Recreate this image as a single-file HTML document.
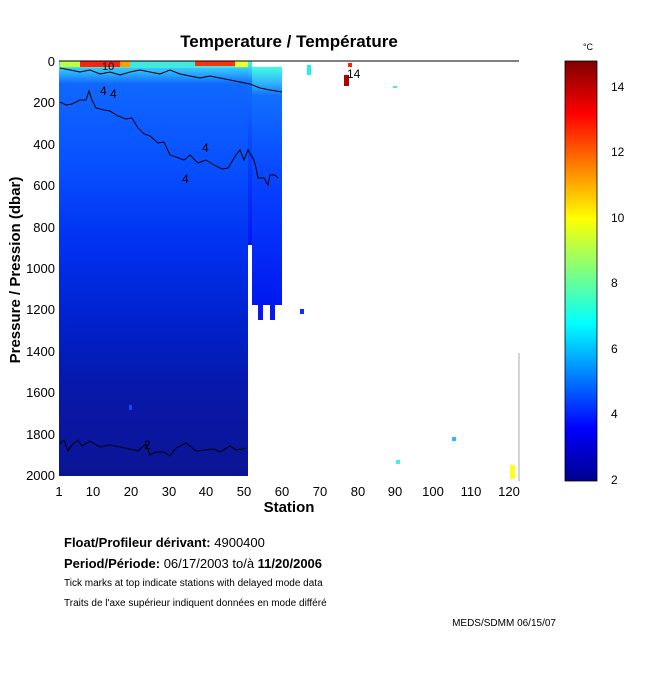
<!DOCTYPE html>
<html><head><meta charset="utf-8"><style>
body{margin:0;background:#fff;width:650px;height:680px;overflow:hidden;font-family:"Liberation Sans",sans-serif}
</style></head><body>
<svg width="650" height="680" xmlns="http://www.w3.org/2000/svg" font-family="Liberation Sans, sans-serif">
<defs>
<linearGradient id="g1" x1="0" y1="0" x2="0" y2="1">
<stop offset="0" stop-color="#40e8f0"/>
<stop offset="0.025" stop-color="#30b8ff"/>
<stop offset="0.055" stop-color="#1068ff"/>
<stop offset="0.25" stop-color="#0850ff"/>
<stop offset="0.45" stop-color="#0030f0"/>
<stop offset="0.65" stop-color="#0020c8"/>
<stop offset="0.8" stop-color="#0818a8"/>
<stop offset="1" stop-color="#0c1495"/>
</linearGradient>
<linearGradient id="g2" x1="0" y1="0" x2="0" y2="1">
<stop offset="0" stop-color="#40ffe0"/>
<stop offset="0.07" stop-color="#30b0ff"/>
<stop offset="0.12" stop-color="#1070ff"/>
<stop offset="0.5" stop-color="#0840ff"/>
<stop offset="1" stop-color="#0018f0"/>
</linearGradient>
<linearGradient id="cb" x1="0" y1="1" x2="0" y2="0">
<stop offset="0" stop-color="#00008f"/>
<stop offset="0.125" stop-color="#0000ff"/>
<stop offset="0.375" stop-color="#00ffff"/>
<stop offset="0.625" stop-color="#ffff00"/>
<stop offset="0.875" stop-color="#ff0000"/>
<stop offset="1" stop-color="#800000"/>
</linearGradient>
</defs>
<text x="289" y="47" font-size="17" font-weight="bold" text-anchor="middle">Temperature / Température</text>
<rect x="59" y="61" width="189" height="415" fill="url(#g1)"/>
<rect x="59" y="61" width="189" height="7" fill="#40e8e0"/>
<rect x="60" y="61" width="20" height="6" fill="#c0ff40"/>
<rect x="80" y="61" width="40" height="6" fill="#ff2010"/>
<rect x="120" y="61" width="10" height="6" fill="#ffa000"/>
<rect x="195" y="61" width="40" height="5" fill="#ff3010"/>
<rect x="235" y="61" width="13" height="6" fill="#f0ff30"/>
<rect x="248" y="61" width="4" height="184" fill="url(#g2)"/>
<rect x="252" y="67" width="30" height="238" fill="url(#g2)"/>
<rect x="258" y="305" width="5" height="15" fill="#0818f0"/>
<rect x="270" y="305" width="5" height="15" fill="#0818f0"/>
<rect x="300" y="309" width="4" height="5" fill="#0830ff"/>
<rect x="307" y="65" width="4" height="10" fill="#20f0f0"/>
<rect x="348" y="63" width="4" height="4" fill="#ff2000"/>
<rect x="344" y="75" width="5" height="11" fill="#b00000"/>
<rect x="393" y="86" width="4" height="2" fill="#40f0e0"/>
<rect x="396" y="460" width="4" height="4" fill="#40f0f0"/>
<rect x="452" y="437" width="4" height="4" fill="#20c0ff"/>
<rect x="510" y="465" width="5" height="14" fill="#ffff20"/>
<rect x="129" y="405" width="3" height="5" fill="#2040ff"/>
<polyline fill="none" stroke="#000" stroke-width="1" points="60,102 66,105 72,104 80,100 86,100 89,91 92,100 96,108 104,110 110,111 118,116 126,119 132,118 138,128 144,134 150,136 158,143 164,142 170,155 176,157 184,160 190,155 198,163 206,160 214,165 222,169 228,168 236,155 240,150 244,160 248,150 254,160 256,168 258,178 264,178 268,185 270,175 275,175 278,178"/>
<polyline fill="none" stroke="#000" stroke-width="1" points="60,68 70,70 80,72 90,70 100,74 110,72 120,75 130,72 140,70 150,72 160,74 170,70 180,74 190,76 200,78 210,76 220,78 230,80 240,82 250,84 260,88 270,90 282,92"/>
<polyline fill="none" stroke="#000" stroke-width="1" points="60,444 64,440 68,451 72,445 78,440 82,446 90,441 100,447 110,445 120,447 130,449 138,451 146,444 150,455 156,452 164,452 170,456 176,448 186,443 196,451 206,450 214,449 220,452 230,446 236,450 242,449 246,448"/>
<text x="144" y="449" font-size="12">2</text>
<text x="100" y="95" font-size="12">4</text><text x="110" y="98" font-size="12">4</text>
<text x="202" y="152" font-size="12">4</text><text x="182" y="183" font-size="12">4</text>
<text x="347" y="78" font-size="12">14</text>
<text x="102" y="70" font-size="11">10</text>
<line x1="59" y1="61" x2="519" y2="61" stroke="#000"/>
<line x1="519" y1="353" x2="519" y2="481" stroke="#aaa"/>
<g font-size="13" text-anchor="end">
<text x="55" y="66">0</text><text x="55" y="107">200</text><text x="55" y="149">400</text><text x="55" y="190">600</text><text x="55" y="232">800</text><text x="55" y="273">1000</text><text x="55" y="314">1200</text><text x="55" y="356">1400</text><text x="55" y="397">1600</text><text x="55" y="439">1800</text><text x="55" y="480">2000</text>
</g>
<g font-size="13" text-anchor="middle">
<text x="59" y="496">1</text><text x="93" y="496">10</text><text x="131" y="496">20</text><text x="169" y="496">30</text><text x="206" y="496">40</text><text x="244" y="496">50</text><text x="282" y="496">60</text><text x="320" y="496">70</text><text x="358" y="496">80</text><text x="395" y="496">90</text><text x="433" y="496">100</text><text x="471" y="496">110</text><text x="509" y="496">120</text>
</g>
<text x="289" y="512" font-size="15" font-weight="bold" text-anchor="middle">Station</text>
<text transform="translate(20,270) rotate(-90)" font-size="15" font-weight="bold" text-anchor="middle">Pressure / Pression (dbar)</text>
<text x="588" y="50" font-size="9" text-anchor="middle">°C</text>
<rect x="565" y="61" width="32" height="420" fill="url(#cb)" stroke="#000" stroke-width="0.8"/>
<g font-size="12">
<text x="611" y="91">14</text><text x="611" y="156">12</text><text x="611" y="222">10</text><text x="611" y="287">8</text><text x="611" y="353">6</text><text x="611" y="418">4</text><text x="611" y="484">2</text>
</g>
<text x="64" y="547" font-size="13"><tspan font-weight="bold">Float/Profileur dérivant:</tspan> 4900400</text>
<text x="64" y="568" font-size="13"><tspan font-weight="bold">Period/Période:</tspan> 06/17/2003  to/à  <tspan font-weight="bold">11/20/2006</tspan></text>
<text x="64" y="586" font-size="10">Tick marks at top indicate stations with delayed mode data</text>
<text x="64" y="606" font-size="10">Traits de l'axe supérieur indiquent données en mode différé</text>
<text x="556" y="626" font-size="10" text-anchor="end">MEDS/SDMM  06/15/07</text>
</svg>
</body></html>
